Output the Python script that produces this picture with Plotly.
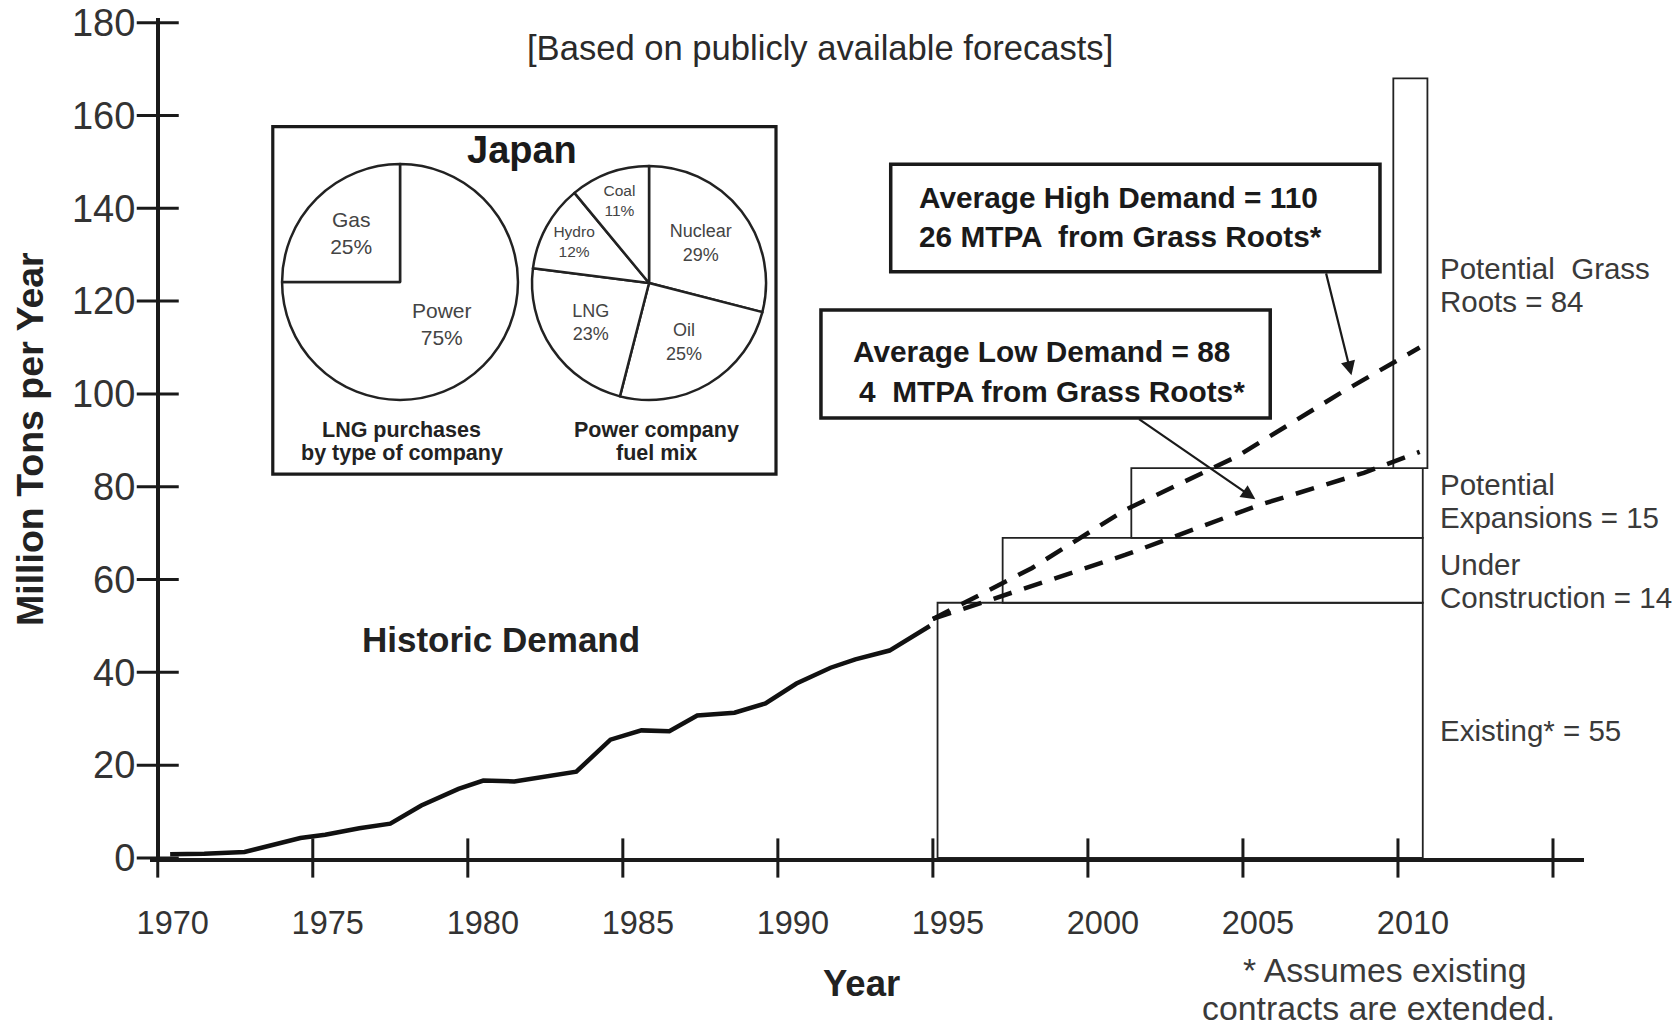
import plotly.graph_objects as go

# ---------------- data ----------------
hist_years = [1970.4, 1971.5, 1972.8, 1974.6, 1975.4, 1976.5, 1977.5, 1978.5, 1979.7,
              1980.5, 1981.5, 1982.7, 1983.5, 1984.6, 1985.6, 1986.5, 1987.4, 1988.6,
              1989.6, 1990.6, 1991.7, 1992.5, 1993.6, 1994.9]
hist_vals = [0.8, 0.9, 1.3, 4.3, 5.0, 6.4, 7.4, 11.3, 14.9,
             16.7, 16.5, 17.7, 18.6, 25.5, 27.5, 27.3, 30.7, 31.3,
             33.3, 37.6, 41.0, 42.8, 44.7, 50.0]

high_years = [1995.0, 1998.2, 2001.2, 2004.8, 2008.1, 2010.7]
high_vals = [51.5, 62.5, 75.0, 86.5, 100.0, 110.0]

low_years = [1995.0, 1997.4, 2001.2, 2005.5, 2008.9, 2010.7]
low_vals = [51.5, 56.9, 65.3, 76.0, 83.0, 87.5]

box_names = ["Existing", "Under Construction", "Potential Expansions", "Potential Grass Roots"]
box_start = [1995.15, 1997.25, 2001.4, 2009.85]
box_end = [2010.8, 2010.8, 2010.8, 2010.95]
box_base = [0, 55, 69, 84]
box_size = [55, 14, 15, 84]

lng_labels = ["Power", "Gas"]
lng_values = [75, 25]
fuel_labels = ["Nuclear", "Oil", "LNG", "Hydro", "Coal"]
fuel_values = [29, 25, 23, 12, 11]

x_tick_vals = [1970, 1975, 1980, 1985, 1990, 1995, 2000, 2005, 2010]
x_tick_text = ["1970", "1975", "1980", "1985", "1990", "1995", "2000", "2005", "2010"]
x_tick_marks = [1970, 1975, 1980, 1985, 1990, 1995, 2000, 2005, 2010, 2015]
y_tick_vals = [0, 20, 40, 60, 80, 100, 120, 140, 160, 180]

# ---------------- styles ----------------
REG = "Liberation Sans, Arial, Helvetica, sans-serif"
INK = "#1a1a1a"
GREY = "#3a3a3a"

fig = go.Figure()

# capacity boxes
fig.add_trace(go.Bar(
    x=[(s + e) / 2 for s, e in zip(box_start, box_end)],
    width=[e - s for s, e in zip(box_start, box_end)],
    base=box_base, y=box_size, text=box_names, textposition="none",
    marker=dict(color="white", line=dict(color="#222222", width=1.8)),
    showlegend=False, hoverinfo="text+y",
))

# historic demand
fig.add_trace(go.Scatter(x=hist_years, y=hist_vals, mode="lines",
                         line=dict(color="#111111", width=4.5), showlegend=False))
# forecasts
fig.add_trace(go.Scatter(x=high_years, y=high_vals, mode="lines",
                         line=dict(color="#111111", width=4.5, dash="19px,13px"),
                         showlegend=False))
fig.add_trace(go.Scatter(x=low_years, y=low_vals, mode="lines",
                         line=dict(color="#111111", width=4.5, dash="19px,13px"),
                         showlegend=False))

# tick crosses
fig.add_trace(go.Scatter(x=x_tick_marks, y=[0] * len(x_tick_marks), mode="markers",
                         marker=dict(symbol="line-ns", size=28, color=INK,
                                     line=dict(width=3, color=INK)),
                         cliponaxis=False, showlegend=False, hoverinfo="skip"))
fig.add_trace(go.Scatter(x=[1970] * len(y_tick_vals), y=y_tick_vals, mode="markers",
                         marker=dict(symbol="line-ew", size=30, color=INK,
                                     line=dict(width=3, color=INK)),
                         cliponaxis=False, showlegend=False, hoverinfo="skip"))

# pies
fig.add_trace(go.Pie(
    labels=lng_labels, values=lng_values, sort=False, direction="clockwise",
    rotation=0, domain=dict(x=[0.0921, 0.2566], y=[0.5452, 0.8262]),
    marker=dict(colors=["white"] * 2, line=dict(color="#222222", width=2.5)),
    textposition="inside", insidetextorientation="horizontal",
    texttemplate="%{label}<br>%{value}%",
    textfont=dict(family=REG, size=21, color="#444444"),
    showlegend=False, hoverinfo="label+value",
))
fig.add_trace(go.Pie(
    labels=fuel_labels, values=fuel_values, sort=False, direction="clockwise",
    rotation=0, domain=dict(x=[0.2664, 0.4296], y=[0.5452, 0.8238]),
    marker=dict(colors=["white"] * 5, line=dict(color="#222222", width=2.5)),
    textposition="inside", insidetextorientation="horizontal",
    texttemplate="%{label}<br>%{value}%",
    textfont=dict(family=REG, size=[18, 18, 18, 15.5, 15.5], color="#444444"),
    showlegend=False, hoverinfo="label+value",
))

shapes = [
    dict(type="rect", xref="x", yref="y", x0=1973.71, x1=1989.94, y0=82.7, y1=157.6,
         line=dict(color=INK, width=3.2), fillcolor="rgba(0,0,0,0)", layer="above"),
    dict(type="rect", xref="x", yref="y", x0=1993.64, x1=2009.42, y0=126.3, y1=149.5,
         line=dict(color=INK, width=3.5), fillcolor="white", layer="above"),
    dict(type="rect", xref="x", yref="y", x0=1991.39, x1=2005.88, y0=94.8, y1=118.1,
         line=dict(color=INK, width=3.5), fillcolor="white", layer="above"),
]

ann = []


def txt(x, y, s, size, bold=False, color=INK, xanchor="center",
        xref="x", yref="y", angle=0):
    t = "<b>%s</b>" % s if bold else s
    ann.append(dict(x=x, y=y, xref=xref, yref=yref, text=t, showarrow=False,
                    xanchor=xanchor, yanchor="middle", textangle=angle,
                    font=dict(family=REG, size=size, color=color)))


txt(1991.36, 174.5, "[Based on publicly available forecasts]", 34.6, color="#2a2a2a")
txt(1981.07, 47.0, "Historic Demand", 35, bold=True, color="#222222")
txt(1981.74, 152.6, "Japan", 38, bold=True)
txt(1977.87, 92.2, "LNG purchases", 21.5, bold=True, color="#222222")
txt(1977.87, 87.2, "by type of company", 21.5, bold=True, color="#222222")
txt(1986.09, 92.2, "Power company", 21.5, bold=True, color="#222222")
txt(1986.09, 87.2, "fuel mix", 21.5, bold=True, color="#222222")

txt(1994.49, 142.4, "Average High Demand = 110", 29.8, bold=True, xanchor="left")
txt(1994.49, 133.85, "26 MTPA  from Grass Roots*", 29.8, bold=True, xanchor="left")
txt(1992.35, 109.2, "Average Low Demand = 88", 29.8, bold=True, xanchor="left")
txt(1992.55, 100.6, "4  MTPA from Grass Roots*", 29.8, bold=True, xanchor="left")

for yv, s in [(127.1, "Potential  Grass"), (120.0, "Roots = 84"),
              (80.4, "Potential"), (73.3, "Expansions = 15"),
              (63.2, "Under"), (56.1, "Construction = 14"),
              (27.4, "Existing* = 55")]:
    txt(2011.29, yv, s, 29.5, color=GREY, xanchor="left")

txt(2009.58, -0.1333, "* Assumes existing", 33.8, color=GREY, yref="paper")
txt(2009.36, -0.178, "contracts are extended.", 33.8, color=GREY, yref="paper")
txt(0.4965, -0.1494, "Year", 36.5, bold=True, color="#222222", xref="paper", yref="paper")
txt(-0.0837, 0.4988, "Million Tons per Year", 37.5, bold=True, color="#222222",
    xref="paper", yref="paper", angle=-90)

# arrows
for hx, hy, tx, ty in [(2008.5, 104.0, 2007.67, 126.3), (2005.4, 77.3, 2001.6, 94.8)]:
    ann.append(dict(x=hx, y=hy, ax=tx, ay=ty, xref="x", yref="y", axref="x", ayref="y",
                    text="", showarrow=True, arrowhead=2, arrowsize=1.3, arrowwidth=2.2,
                    arrowcolor=INK))

fig.update_layout(
    width=1680, height=1030,
    margin=dict(l=150, r=96, t=18, b=172, autoexpand=False),
    paper_bgcolor="white", plot_bgcolor="white",
    barmode="overlay", showlegend=False,
    shapes=shapes, annotations=ann,
    xaxis=dict(range=[1969.75, 2016], showline=True, linecolor=INK, linewidth=3.5,
               showgrid=False, zeroline=False, ticks="", automargin=False,
               tickvals=x_tick_vals, ticktext=x_tick_text,
               tickfont=dict(family=REG, size=32.5, color="#333333"),
               ticklabelstandoff=33, ticklabelshift=15, ticklabeloverflow="allow"),
    yaxis=dict(range=[0, 181], showline=True, linecolor=INK, linewidth=3.5,
               anchor="free", position=0.25 / 46.25, automargin=False,
               showgrid=False, zeroline=False, ticks="",
               tickvals=y_tick_vals,
               tickfont=dict(family=REG, size=38, color="#333333"),
               ticklabelstandoff=13, ticklabeloverflow="allow"),
)

# remove the default 8px page margin so the figure fills the window exactly
fig.write_html("out.html",
               config={"displayModeBar": False},
               post_script="document.body.style.margin='0px';"
                           "document.body.style.overflow='hidden';")
